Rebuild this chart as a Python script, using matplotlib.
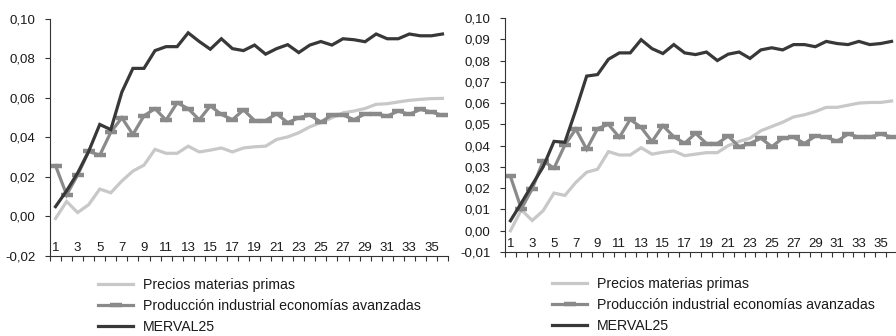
import numpy as np
import matplotlib
matplotlib.use("Agg")
import matplotlib.pyplot as plt

plt.rcParams['font.family'] = ['Liberation Sans', 'DejaVu Sans']

categories = list(range(1, 37))
xtick_labels = [str(c) for c in categories if c % 2 == 1]

series_names = ["Precios materias primas",
                "Producción industrial economías avanzadas",
                "MERVAL25"]

# Left panel
precios_a = [-0.001, 0.0076, 0.002, 0.006, 0.0139, 0.012, 0.018, 0.023, 0.026, 0.034,
             0.032, 0.032, 0.0356, 0.0327, 0.0336, 0.0347, 0.0327, 0.0347, 0.0353, 0.0356,
             0.039, 0.0403, 0.0424, 0.0454, 0.0475, 0.050, 0.0525, 0.0534, 0.0547, 0.0568,
             0.0571, 0.058, 0.0588, 0.0593, 0.0597, 0.0598]
produccion_a = [0.0258, 0.011, 0.021, 0.033, 0.031, 0.0427, 0.050, 0.0415, 0.051, 0.0546,
                0.0488, 0.0576, 0.0546, 0.049, 0.056, 0.0517, 0.049, 0.054, 0.0486, 0.0486,
                0.052, 0.0475, 0.050, 0.0514, 0.0478, 0.0514, 0.0514, 0.049, 0.052, 0.052,
                0.0508, 0.0534, 0.0517, 0.0542, 0.0529, 0.0512]
merval_a = [0.005, 0.013, 0.022, 0.033, 0.0466, 0.044, 0.063, 0.075, 0.075, 0.084,
            0.086, 0.086, 0.093, 0.0886, 0.0847, 0.090, 0.085, 0.084, 0.0868, 0.0822,
            0.085, 0.087, 0.083, 0.0868, 0.0886, 0.0868, 0.090, 0.0895, 0.0885, 0.0924,
            0.090, 0.090, 0.0924, 0.0915, 0.0915, 0.0924]

# Right panel
precios_b = [0.000, 0.0098, 0.0048, 0.0094, 0.0177, 0.0166, 0.0227, 0.0275, 0.0289, 0.0372,
             0.0356, 0.0356, 0.039, 0.036, 0.0369, 0.0375, 0.0353, 0.036, 0.0367, 0.0367,
             0.040, 0.042, 0.0435, 0.047, 0.049, 0.051, 0.0535, 0.0545, 0.056, 0.058,
             0.058, 0.059, 0.060, 0.0603, 0.0603, 0.061]
produccion_b = [0.0255, 0.0103, 0.0197, 0.0328, 0.0294, 0.0403, 0.0478, 0.0383, 0.048, 0.050,
                0.0439, 0.0523, 0.0486, 0.0419, 0.0494, 0.0442, 0.0411, 0.0458, 0.041, 0.041,
                0.0445, 0.0395, 0.041, 0.0435, 0.0395, 0.0435, 0.044, 0.041, 0.0445, 0.044,
                0.042, 0.0455, 0.044, 0.044, 0.0455, 0.044]
merval_b = [0.0047, 0.013, 0.0216, 0.030, 0.042, 0.0416, 0.0567, 0.0727, 0.0734, 0.0806,
            0.0836, 0.0836, 0.0898, 0.0856, 0.0833, 0.0875, 0.0836, 0.0828, 0.084, 0.080,
            0.083, 0.084, 0.081, 0.085, 0.086, 0.085, 0.0875, 0.0875, 0.0865, 0.089,
            0.088, 0.0875, 0.089, 0.0875, 0.088, 0.089]

yticks_a = [-0.02, 0.00, 0.02, 0.04, 0.06, 0.08, 0.10]
yticks_b = [-0.01, 0.00, 0.01, 0.02, 0.03, 0.04, 0.05, 0.06, 0.07, 0.08, 0.09, 0.10]

c_light = '#c8c8c8'
c_mid = '#8a8a8a'
c_dark = '#383838'
axis_col = '#333333'
text_col = '#1a1a1a'
lw = 2.3
tick_fs = 9.5
leg_fs = 10.2

fig = plt.figure(figsize=(8.96, 3.36), dpi=100)
ax1 = fig.add_axes([50/896, 1 - 256/336, 398/896, (256 - 19)/336])
ax2 = fig.add_axes([505/896, 1 - 252/336, 392/896, (252 - 18)/336])


def fmt(v):
    return f"{v:.2f}".replace('.', ',')


def draw(ax, prec, prod, merv, yticks, legend_anchor):
    x = np.array(categories)
    l1, = ax.plot(x, prec, color=c_light, lw=lw, solid_joinstyle='miter')
    l2, = ax.plot(x, prod, color=c_mid, lw=lw, marker='_', markersize=8,
                  markeredgewidth=3.2, markeredgecolor=c_mid, solid_joinstyle='miter')
    l3, = ax.plot(x, merv, color=c_dark, lw=lw, solid_joinstyle='miter')
    ax.set_xlim(0.5, len(categories) + 0.5)
    ax.set_ylim(yticks[0], yticks[-1])
    ax.set_yticks(yticks)
    ax.set_yticklabels([fmt(v) for v in yticks], fontsize=tick_fs, color=text_col)
    for s in ['top', 'right', 'bottom']:
        ax.spines[s].set_visible(False)
    ax.spines['left'].set_color(axis_col)
    ax.spines['left'].set_linewidth(0.8)
    ax.tick_params(axis='y', length=3.5, width=0.8, color=axis_col, pad=7)
    # category labels along the bottom
    ax.set_xticks([c for c in categories if c % 2 == 1])
    ax.set_xticklabels(xtick_labels, fontsize=tick_fs, color=text_col)
    ax.tick_params(axis='x', length=0, pad=-10)
    # zero axis line with ticks between categories
    sec = ax.secondary_xaxis(0)
    sec.set_xticks(np.arange(0.5, len(categories) + 1, 1))
    sec.set_xticklabels([])
    sec.spines['bottom'].set_color(axis_col)
    sec.spines['bottom'].set_linewidth(0.8)
    sec.tick_params(axis='x', length=3.5, width=0.8, color=axis_col, direction='out')
    leg = fig.legend([l1, l2, l3], series_names, loc='upper left',
                     bbox_to_anchor=legend_anchor, bbox_transform=fig.transFigure,
                     frameon=False, fontsize=leg_fs, handlelength=2.5, handletextpad=0.7,
                     labelspacing=0.5, borderpad=0, borderaxespad=0, numpoints=1)
    for t in leg.get_texts():
        t.set_color(text_col)


draw(ax1, precios_a, produccion_a, merval_a, yticks_a, (98/896, 1 - 278/336))
draw(ax2, precios_b, produccion_b, merval_b, yticks_b, (552/896, 1 - 277/336))

fig.savefig('out.png', dpi=100)
